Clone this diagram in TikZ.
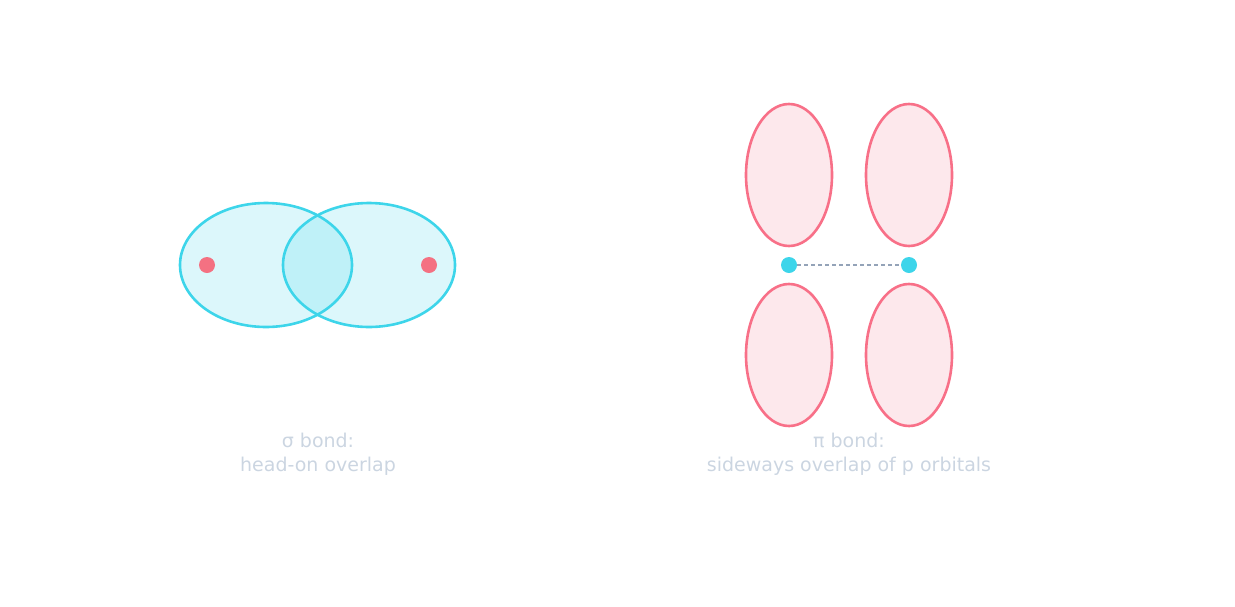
\documentclass[tikz,border=0pt]{standalone}
\usepackage{fontspec}
\setmainfont{DejaVu Sans}
\usetikzlibrary{shapes.geometric,positioning}
\definecolor{cyanline}{HTML}{3DD5EA}
\definecolor{cyanfill}{HTML}{DCF7FB}
\definecolor{pinkline}{HTML}{F87088}
\definecolor{pinkfill}{HTML}{FDE8EC}
\definecolor{dotpink}{HTML}{F47182}
\definecolor{captext}{HTML}{CBD5E1}
\definecolor{dashgray}{HTML}{94A3B8}
\begin{document}
\begin{tikzpicture}[x=1pt,y=-1pt]
\tikzstyle{sorb}=[ellipse, draw=cyanline, line width=2.6pt, fill=cyanline, fill opacity=0.18, draw opacity=1, minimum width=172pt, minimum height=124pt, inner sep=0pt]
\tikzstyle{porb}=[ellipse, draw=pinkline, line width=2.6pt, fill=pinkfill, minimum width=86pt, minimum height=142pt, inner sep=0pt]
\tikzstyle{nucl}=[circle, minimum size=16pt, inner sep=0pt]
\tikzstyle{caption}=[text=captext, align=center, font=\fontsize{19}{24}\selectfont]

  \useasboundingbox (0,0) rectangle (1235,606);

  % sigma bond
  \node[sorb] (sleft)  at (266,265) {};
  \node[sorb] (sright) at (369,265) {};
  \node[nucl, fill=dotpink] (na) at (207,265) {};
  \node[nucl, fill=dotpink] (nb) at (429,265) {};
  \node[caption] (scap) at (318,454) {σ bond:\\head-on overlap};

  % pi bond
  \node[porb] (pa1) at (789,175) {};
  \node[porb] (pb1) at (909,175) {};
  \node[porb] (pa2) at (789,355) {};
  \node[porb] (pb2) at (909,355) {};
  \node[nucl, fill=cyanline] (nc) at (789,265) {};
  \node[nucl, fill=cyanline] (nd) at (909,265) {};
  \draw[dashgray, line width=1.4pt, dash pattern=on 4pt off 3pt] (nc) -- (nd);
  \node[caption] (pcap) at (849,454) {π bond:\\sideways overlap of p orbitals};

\end{tikzpicture}
\end{document}
